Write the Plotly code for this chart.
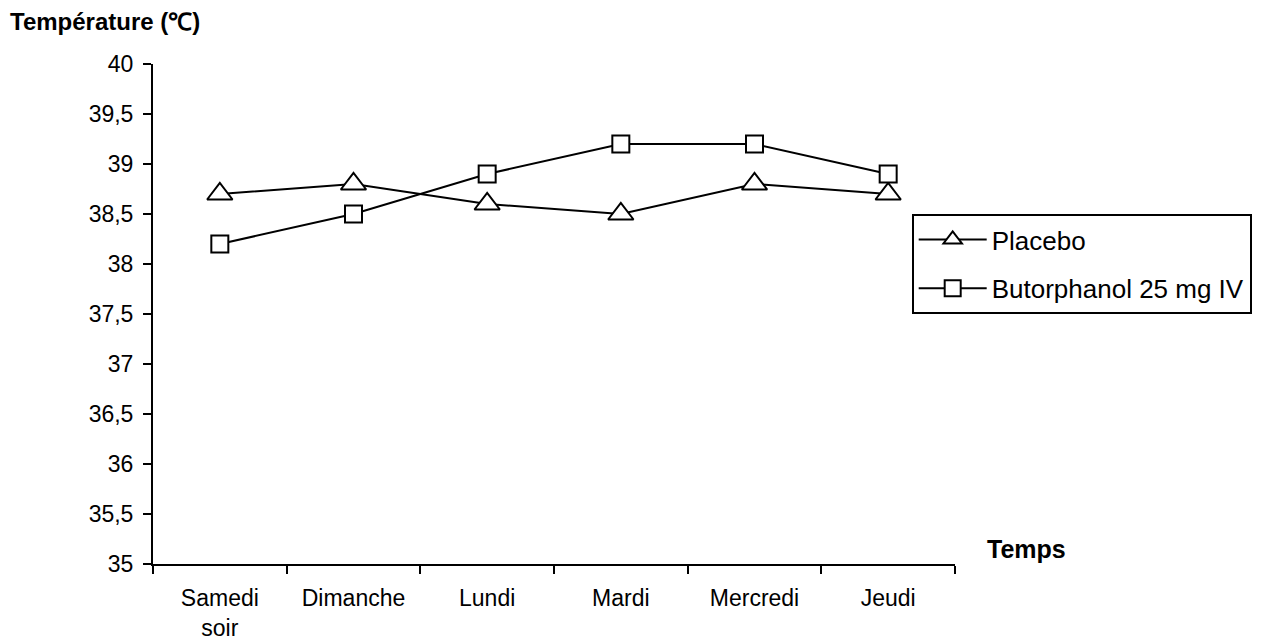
import plotly.graph_objects as go

# Jours de mesure et températures moyennes (°C)
jours = ["Samedi<br>soir", "Dimanche", "Lundi", "Mardi", "Mercredi", "Jeudi"]
placebo = [38.7, 38.8, 38.6, 38.5, 38.8, 38.7]
butorphanol = [38.2, 38.5, 38.9, 39.2, 39.2, 38.9]

noms_series = ["Placebo", "Butorphanol 25 mg IV"]
y_min, y_max, y_pas = 35, 40, 0.5

police = "Liberation Sans, Arial, sans-serif"

fig = go.Figure()
fig.add_trace(go.Scatter(
    x=jours, y=placebo, name=noms_series[0], mode="lines+markers",
    legendgroup="a",
    line=dict(color="black", width=2),
    marker=dict(symbol="triangle-up", size=22, color="white",
                line=dict(color="black", width=2)),
))
fig.add_trace(go.Scatter(
    x=jours, y=butorphanol, name=noms_series[1], mode="lines+markers",
    legendgroup="b",
    line=dict(color="black", width=2),
    marker=dict(symbol="square", size=17, color="white",
                line=dict(color="black", width=2)),
))

fig.update_layout(
    width=1269, height=639,
    margin=dict(l=153, r=314, t=64, b=75),
    paper_bgcolor="white", plot_bgcolor="white",
    separators=", ",
    font=dict(family=police, size=23, color="black"),
    showlegend=True,
    legend=dict(
        x=0.946, y=0.70, xanchor="left", yanchor="top",
        bordercolor="black", borderwidth=2, bgcolor="white",
        font=dict(size=26), tracegroupgap=12, itemwidth=68,
        entrywidth=272, entrywidthmode="pixels",
    ),
    xaxis=dict(
        type="category", range=[-0.5, 5.5], tickson="boundaries",
        showline=True, linecolor="black", linewidth=2,
        ticks="outside", ticklen=8, tickwidth=2, tickcolor="black",
        showgrid=False, zeroline=False, ticklabelstandoff=12,
        automargin=False,
    ),
    yaxis=dict(
        range=[y_min, y_max], dtick=y_pas, tick0=y_min,
        showline=True, linecolor="black", linewidth=2,
        ticks="outside", ticklen=8, tickwidth=2, tickcolor="black",
        showgrid=False, zeroline=False, ticklabelstandoff=5,
        automargin=False,
    ),
    annotations=[
        dict(text="<b>Température (℃)</b>", xref="paper", yref="paper",
             x=-0.181, y=1.084, xanchor="left", yanchor="middle",
             showarrow=False, font=dict(size=24)),
        dict(text="<b>Temps</b>", xref="paper", yref="paper",
             x=1.037, y=0.03, xanchor="left", yanchor="middle",
             showarrow=False, font=dict(size=25)),
    ],
)

fig.write_html("out.html")
